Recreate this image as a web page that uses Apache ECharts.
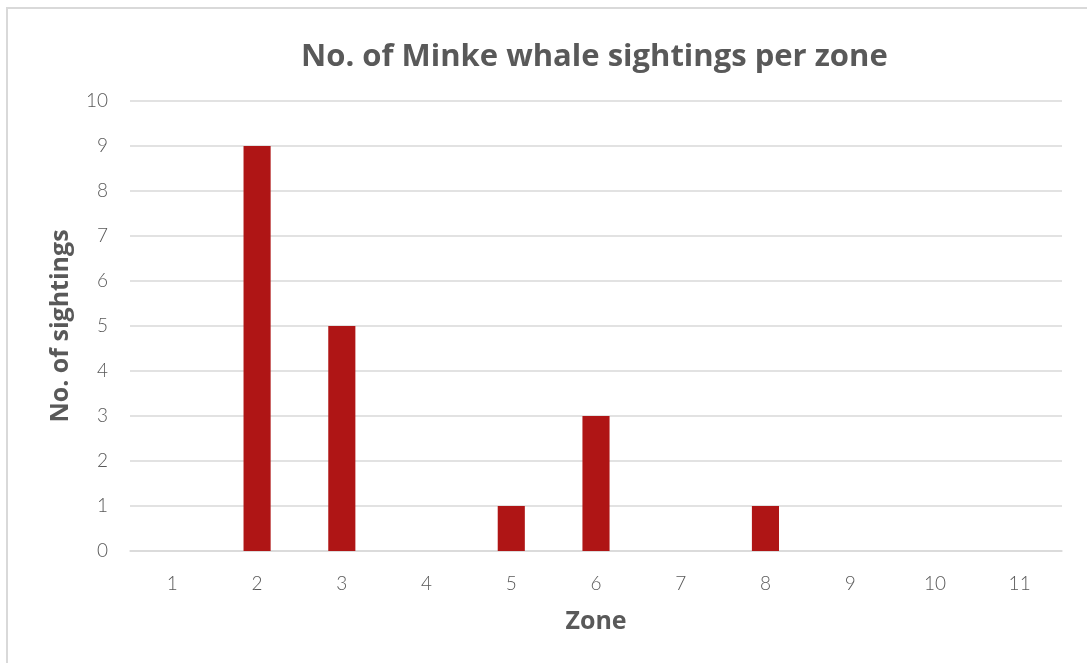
<!DOCTYPE html>
<html><head><meta charset="utf-8">
<script src="https://cdn.jsdelivr.net/npm/echarts@6/dist/echarts.min.js"></script>
<style>html,body{margin:0;padding:0;background:#fff}#c{width:1087px;height:663px}</style>
</head><body><div id="c"></div>
<script>
const zones = ['1','2','3','4','5','6','7','8','9','10','11'];
const sightings = [0, 9, 5, 0, 1, 3, 0, 1, 0, 0, 0];
const yTicks = {min: 0, max: 10, interval: 1};
const chart = echarts.init(document.getElementById('c'));
const txt = '#595959';
const font = 'Lato, "Open Sans", sans-serif';
const tfont = '"Open Sans", Lato, sans-serif';
chart.setOption({
  animation: false,
  backgroundColor: '#fff',
  graphic: [{type:'rect', shape:{x:7, y:8, width:1200, height:800}, style:{fill:'none', stroke:'#d9d9d9', lineWidth:2}, silent:true}],
  title: {text: 'No. of Minke whale sightings per zone', left: 296, top: 37,
    textStyle: {color: txt, fontSize: 31, fontWeight: 'bold', fontFamily: tfont}},
  grid: {left: 130, right: 25, top: 101, bottom: 112},
  xAxis: {type: 'category', data: zones,
    name: 'Zone', nameLocation: 'middle', nameGap: 58,
    nameTextStyle: {color: txt, fontSize: 25, fontWeight: 'bold', fontFamily: tfont},
    axisLine: {lineStyle: {color: '#d9d9d9', width: 1.5}}, axisTick: {show: false},
    axisLabel: {color: txt, fontSize: 19, fontFamily: font, fontWeight: 300, margin: 23}},
  yAxis: {type: 'value', min: yTicks.min, max: yTicks.max, interval: yTicks.interval,
    name: 'No. of sightings', nameLocation: 'middle', nameGap: 57,
    nameTextStyle: {color: txt, fontSize: 25, fontWeight: 'bold', fontFamily: tfont},
    axisLine: {show: false}, axisTick: {show: false},
    splitLine: {lineStyle: {color: '#d9d9d9', width: 1.5}},
    axisLabel: {color: txt, fontSize: 19, fontFamily: font, fontWeight: 300, margin: 22}},
  series: [{type: 'bar', data: sightings, barWidth: '32%',
    itemStyle: {color: '#AF1515'}}]
});
</script></body></html>
